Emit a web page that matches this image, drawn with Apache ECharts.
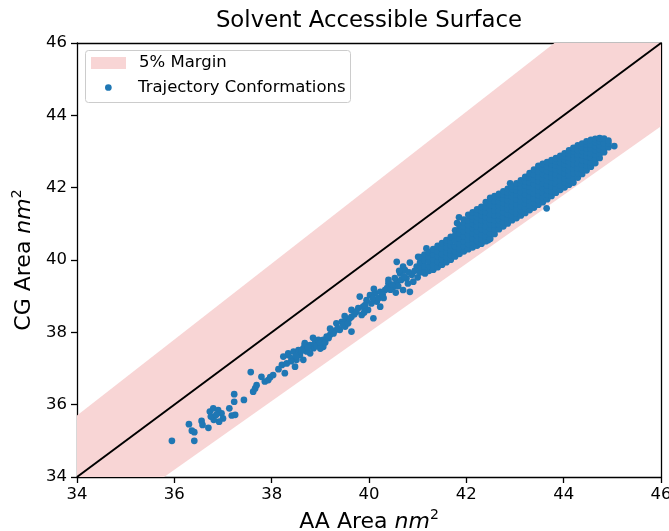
<!DOCTYPE html>
<html><head><meta charset="utf-8">
<script src="https://cdn.jsdelivr.net/npm/echarts@6/dist/echarts.min.js"></script>
<style>html,body{margin:0;padding:0;background:#fff}#c{width:669px;height:531px}</style>
</head><body><div id="c"></div>
<script>
const FONT = 'DejaVu Sans';
const titleText = 'Solvent Accessible Surface';
const axisMin = 34, axisMax = 46, axisStep = 2;
const identityX = [34, 46];
const identityY = [34, 46];
const marginX = [34, 46];
const marginLower = [32.3, 43.7];
const marginUpper = [35.7, 48.3];

const sparsePoints = [
[35.95,35.0],[36.41,35.0],[36.30,35.46],[36.36,35.28],[36.41,35.24],[36.56,35.55],[36.58,35.44],[36.70,35.36],
[36.73,35.81],[36.80,35.90],[36.90,35.85],[36.97,35.76],[37.0,35.62],[36.92,35.53],[36.81,35.58],[36.75,35.67],[36.86,35.72],
[37.13,35.90],[37.18,35.70],[37.25,35.72],[37.23,36.29],[37.23,36.08],[37.43,36.13],[37.57,36.90],[37.62,36.36],
[37.66,36.45],[37.69,36.54],[37.79,36.77],[37.86,36.64],[37.93,36.68],[37.97,36.76],[38.03,36.82],[38.14,36.98],
[38.21,37.10],[38.27,36.87],[38.31,37.14],[38.34,37.37],[38.41,37.28],[38.48,37.05],[38.51,37.24],[38.58,37.42],
[38.65,37.24],[38.68,37.65],[38.72,37.47],
[38.24,37.33],[38.34,37.42],[38.45,37.47],[38.55,37.51],[38.58,37.37],[38.65,37.56],[38.68,37.70],[38.79,37.65],
[38.79,37.42],[38.86,37.56],[38.89,37.70],[38.96,37.79],[39.06,37.79],[39.06,37.60],[39.13,37.88],[39.20,37.93],
[39.27,37.97],[39.33,38.25],[39.40,38.07],[39.44,38.29],[39.51,38.16],[39.54,38.34],[39.64,38.43],[39.64,38.02],
[39.64,38.62],[39.78,38.67],[39.85,38.48],[39.88,38.71],[39.81,38.99],[39.95,38.89],[40.02,39.03],[40.09,38.39],
[40.12,39.08],[40.16,38.85],[40.23,38.71],[40.23,39.12],[40.33,39.17],[40.40,39.36],[40.50,39.26],[40.57,39.40],
[40.70,39.17],[40.84,39.12],[40.77,39.49],[40.64,39.63],[40.74,39.72],[40.88,39.59],[40.91,39.40],[41.15,39.63],
[40.57,39.95],[40.84,39.93],[41.01,40.09],[41.18,40.09],
[38.92,37.62],[39.0,37.7],[39.1,37.72],[39.17,37.84],[39.3,38.05],[39.36,38.12],[39.47,38.22],[39.57,38.25],
[39.6,38.38],[39.7,38.5],[39.74,38.57],[39.92,38.75],[39.98,38.62],[40.05,38.8],[40.08,38.95],[40.2,38.95],
[40.28,39.05],[40.37,39.22],[40.44,39.18],[40.47,39.32],[40.53,39.5],[40.6,39.28],[40.66,39.45],[40.72,39.55],
[40.8,39.35],[40.82,39.66],[40.94,39.7],[41.0,39.52],[40.98,39.82],[40.7,39.82],[40.62,39.7],[38.4,37.2],
[38.5,37.35],[38.62,37.5],[38.75,37.58],
[39.2,38.1],[39.5,38.45],[39.9,38.55],[40.3,38.95],[40.4,39.45],[39.0,37.55],[38.85,37.85],[40.1,39.2],[40.55,39.1],
[45.04,43.15],[43.65,41.43],[42.45,40.55],[42.28,40.55],[41.85,41.18],[41.81,41.02],[42.9,42.12],[41.18,40.32]
];

const denseColumns = [
[41.05,[39.66,39.80,39.94,40.08]],
[41.14,[39.68,39.83,39.99,40.15]],
[41.23,[39.70,39.84,39.97,40.10,40.22]],
[41.32,[39.73,39.87,40.02,40.16,40.30]],
[41.41,[39.80,39.95,40.10,40.24,40.39]],
[41.50,[39.87,40.02,40.17,40.32,40.47]],
[41.59,[39.94,40.08,40.22,40.36,40.48,40.55]],
[41.68,[40.01,40.14,40.27,40.40,40.52,40.64]],
[41.77,[40.10,40.24,40.38,40.53,40.68,40.82]],
[41.86,[40.17,40.31,40.45,40.60,40.74,40.86,40.96]],
[41.95,[40.24,40.38,40.52,40.66,40.80,40.94,41.04,41.12]],
[42.04,[40.30,40.44,40.57,40.70,40.83,40.96,41.09,41.25]],
[42.13,[40.35,40.48,40.61,40.74,40.87,41.00,41.13,41.22,41.32]],
[42.22,[40.40,40.53,40.67,40.80,40.93,41.06,41.19,41.30,41.40]],
[42.31,[40.45,40.58,40.72,40.85,40.98,41.11,41.24,41.36,41.47]],
[42.40,[40.52,40.66,40.80,40.93,41.06,41.19,41.32,41.46,41.60]],
[42.49,[40.59,40.73,40.87,41.00,41.13,41.26,41.39,41.52,41.64,41.72]],
[42.58,[40.72,40.85,40.98,41.11,41.24,41.37,41.50,41.63,41.77]],
[42.67,[40.85,40.98,41.11,41.24,41.37,41.50,41.62,41.74,41.83]],
[42.76,[40.93,41.06,41.19,41.32,41.45,41.58,41.70,41.81,41.90]],
[42.85,[41.01,41.14,41.27,41.40,41.53,41.66,41.78,41.88,41.97]],
[42.94,[41.10,41.23,41.36,41.49,41.62,41.75,41.86,41.96,42.04]],
[43.03,[41.16,41.29,41.42,41.55,41.68,41.81,41.93,42.04,42.12]],
[43.12,[41.23,41.36,41.49,41.62,41.75,41.88,42.00,42.11,42.20]],
[43.21,[41.30,41.43,41.56,41.69,41.82,41.95,42.07,42.19,42.30]],
[43.30,[41.38,41.51,41.64,41.77,41.90,42.03,42.15,42.28,42.40]],
[43.39,[41.45,41.58,41.71,41.84,41.97,42.10,42.23,42.37,42.50]],
[43.48,[41.53,41.66,41.79,41.92,42.05,42.18,42.31,42.45,42.60]],
[43.57,[41.60,41.73,41.86,41.99,42.12,42.25,42.38,42.52,42.66]],
[43.66,[41.68,41.81,41.94,42.07,42.20,42.33,42.46,42.59,42.71]],
[43.75,[41.77,41.90,42.03,42.16,42.29,42.42,42.54,42.66,42.76]],
[43.84,[41.86,41.99,42.12,42.25,42.38,42.50,42.62,42.73,42.82]],
[43.93,[41.94,42.07,42.20,42.33,42.46,42.58,42.70,42.80,42.88]],
[44.02,[42.01,42.14,42.27,42.40,42.53,42.65,42.77,42.87,42.95]],
[44.11,[42.08,42.21,42.34,42.47,42.60,42.72,42.84,42.94,43.03]],
[44.20,[42.14,42.27,42.40,42.53,42.66,42.79,42.91,43.01,43.10]],
[44.29,[42.28,42.41,42.54,42.67,42.80,42.92,43.04,43.17]],
[44.38,[42.38,42.51,42.64,42.77,42.90,43.02,43.12,43.22]],
[44.47,[42.48,42.61,42.74,42.87,42.99,43.10,43.20,43.28]],
[44.56,[42.58,42.71,42.84,42.96,43.08,43.20,43.32]],
[44.65,[42.68,42.80,42.92,43.04,43.15,43.26,43.35]],
[44.74,[42.82,42.94,43.06,43.18,43.28,43.37]],
[44.83,[42.98,43.10,43.22,43.36]],
[44.92,[43.12,43.22,43.30]]
];

const conformations = sparsePoints.slice();
denseColumns.forEach(([x, ys]) => ys.forEach(y => conformations.push([x, y])));

// polygon clipping to the plot rectangle (Sutherland-Hodgman)
function clipEdge(pts, inside, cross) {
  const out = [];
  for (let i = 0; i < pts.length; i++) {
    const cur = pts[i], prev = pts[(i + pts.length - 1) % pts.length];
    const ci = inside(cur), pi = inside(prev);
    if (ci) { if (!pi) out.push(cross(prev, cur)); out.push(cur); }
    else if (pi) out.push(cross(prev, cur));
  }
  return out;
}
function clipToRect(pts, r) {
  const x0 = r.x, x1 = r.x + r.width, y0 = r.y, y1 = r.y + r.height;
  const atX = (a, b, x) => [x, a[1] + (b[1] - a[1]) * (x - a[0]) / (b[0] - a[0])];
  const atY = (a, b, y) => [a[0] + (b[0] - a[0]) * (y - a[1]) / (b[1] - a[1]), y];
  pts = clipEdge(pts, p => p[0] >= x0, (a, b) => atX(a, b, x0));
  pts = clipEdge(pts, p => p[0] <= x1, (a, b) => atX(a, b, x1));
  pts = clipEdge(pts, p => p[1] >= y0, (a, b) => atY(a, b, y0));
  pts = clipEdge(pts, p => p[1] <= y1, (a, b) => atY(a, b, y1));
  return pts;
}

const chart = echarts.init(document.getElementById('c'), null, {renderer: 'canvas'});
const txt = {fontFamily: FONT, color: '#000'};
const nameRich = {
  a: {fontFamily: FONT, fontSize: 22, color: '#000', lineHeight: 28},
  b: {fontFamily: FONT, fontSize: 22, fontStyle: 'italic', color: '#000', lineHeight: 28},
  c: {fontFamily: FONT, fontSize: 14, color: '#000', verticalAlign: 'top', lineHeight: 28}
};
const baseAxis = (pos) => ({
  type: 'value', min: axisMin, max: axisMax, interval: axisStep, position: pos,
  axisLine: {show: true, onZero: false, lineStyle: {color: '#000', width: 1.3}},
  axisTick: {show: true, length: 6, inside: false, lineStyle: {color: '#000', width: 1.3}},
  axisLabel: {show: true, fontFamily: FONT, fontSize: 16.5, color: '#000'},
  splitLine: {show: false}
});
const xMain = Object.assign(baseAxis('bottom'), {
  name: '{a|AA Area }{b|nm}{c|2}', nameLocation: 'middle', nameGap: 29,
  nameTextStyle: {rich: nameRich}
});
xMain.axisLabel.margin = 9;
const yMain = Object.assign(baseAxis('left'), {
  name: '{a|CG Area }{b|nm}{c|2}', nameLocation: 'middle', nameGap: 31,
  nameTextStyle: {rich: nameRich}
});
yMain.axisLabel.margin = 10;
const xTop = Object.assign(baseAxis('top'), {axisTick: {show: false}, axisLabel: {show: false}});
const yRight = Object.assign(baseAxis('right'), {axisTick: {show: false}, axisLabel: {show: false}});

chart.setOption({
  animation: false,
  backgroundColor: '#fff',
  title: {text: titleText, left: 369, top: 10, padding: 0, textAlign: 'center',
    textStyle: {fontFamily: FONT, fontSize: 22.8, fontWeight: 'normal', color: '#000'}},
  grid: {left: 77, right: 8, top: 43, bottom: 54, containLabel: false, outerBoundsMode: 'none'},
  xAxis: [xMain, xTop],
  yAxis: [yMain, yRight],
  graphic: [{
    type: 'rect', z: 5, shape: {x: 85.5, y: 50.5, width: 265, height: 52, r: 3},
    style: {fill: 'rgba(255,255,255,0.8)', stroke: '#cccccc', lineWidth: 1}
  }],
  legend: [
    {data: ['5% Margin'], left: 91, top: 54, padding: 0, icon: 'rect', itemWidth: 35, itemHeight: 12,
     selectedMode: false, z: 10, textStyle: Object.assign({fontSize: 16.5, lineHeight: 18, padding: [0, 0, 0, 8]}, txt)},
    {data: ['Trajectory Conformations'], left: 105, top: 78.5, padding: 0, icon: 'circle', itemWidth: 6.7, itemHeight: 6.7,
     selectedMode: false, z: 10, textStyle: Object.assign({fontSize: 16.5, lineHeight: 18, padding: [0, 0, 0, 21.3]}, txt)}
  ],
  series: [
    {type: 'custom', name: '5% Margin', silent: true, z: 1,
     itemStyle: {color: '#f8d5d5'},
     data: [[marginX[0], marginLower[0]]],
     renderItem: function (params, api) {
       const pts = [];
       for (let i = 0; i < marginX.length; i++) pts.push(api.coord([marginX[i], marginLower[i]]));
       for (let i = marginX.length - 1; i >= 0; i--) pts.push(api.coord([marginX[i], marginUpper[i]]));
       const clipped = clipToRect(pts, params.coordSys);
       return {type: 'polygon', shape: {points: clipped}, style: {fill: '#f8d5d5'}};
     }},
    {type: 'scatter', name: 'Trajectory Conformations', data: conformations, symbolSize: 6.7,
     itemStyle: {color: '#1f77b4', opacity: 1}, z: 2},
    {type: 'line', name: 'identity', data: identityX.map((x, i) => [x, identityY[i]]), symbol: 'none', silent: true,
     lineStyle: {color: '#000', width: 2}, z: 3}
  ]
});
</script></body></html>
